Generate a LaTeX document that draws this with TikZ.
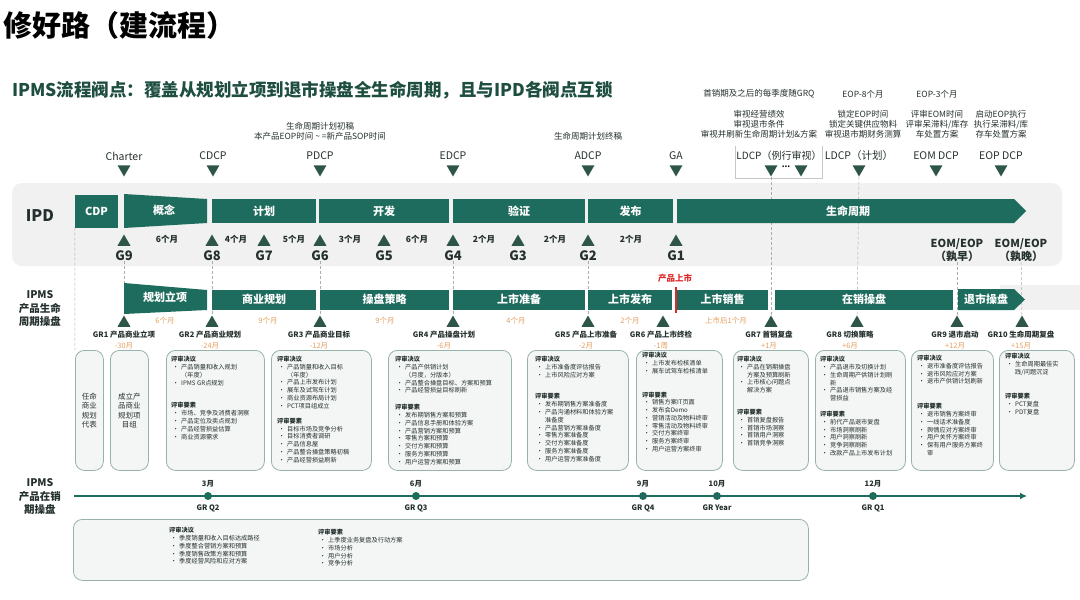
\documentclass[tikz,border=0pt]{standalone}
\usepackage{fontspec}
\setmainfont{Noto Sans CJK SC}
\usetikzlibrary{shapes.geometric,positioning,arrows.meta}
\definecolor{barteal}{RGB}{30,108,93}
\definecolor{trigreen}{RGB}{45,86,72}
\definecolor{titgreen}{RGB}{30,78,64}
\definecolor{inkdark}{RGB}{36,48,46}
\definecolor{monthor}{RGB}{226,160,98}
\definecolor{launchred}{RGB}{222,40,40}
\definecolor{boxedge}{RGB}{150,178,170}
\definecolor{boxfill}{RGB}{244,246,245}
\definecolor{bandgray}{RGB}{240,241,240}
\newcommand\itm{\makebox[10pt][l]{\hspace{1.5pt}•}}
\newcommand\cont{\hspace*{10pt}}
\begin{document}
\begin{tikzpicture}[x=1pt, y=-1pt, inner sep=0pt,
    ipdbar/.style={fill=barteal, text=white, font=\fontsize{11}{12}\selectfont\bfseries, minimum height=24},
    gbar/.style={ipdbar, minimum height=20},
    bartext/.style={text=white, font=\fontsize{11}{12}\selectfont\bfseries},
    downtri/.style={regular polygon, regular polygon sides=3, shape border rotate=180, fill=trigreen, minimum size=15},
    uptri/.style={regular polygon, regular polygon sides=3, fill=trigreen, minimum size=15},
    mile/.style={font=\fontsize{10.5}{12}\selectfont, text=inkdark},
    note/.style={align=center, font=\fontsize{8.5}{10}\selectfont, text=inkdark},
    gate/.style={font=\fontsize{13}{14}\selectfont\bfseries, text=inkdark},
    gmon/.style={font=\fontsize{8.5}{10}\selectfont\bfseries, text=inkdark},
    omon/.style={font=\fontsize{7.5}{9}\selectfont, text=monthor},
    grlab/.style={font=\fontsize{7.5}{9}\selectfont\bfseries, text=inkdark},
    rowlab/.style={align=center, font=\fontsize{10.5}{13.5}\selectfont\bfseries, text=inkdark},
    guide/.style={densely dashed, gray!65, line width=0.5pt},
    revbox/.style={draw=boxedge, fill=boxfill, rounded corners=9, line width=0.8pt, anchor=north west},
    revtxt/.style={anchor=north west, align=left, font=\fontsize{6.2}{7.8}\selectfont, text=inkdark},
    qdot/.style={circle, fill=barteal, minimum size=8},
    qlab/.style={font=\fontsize{7.5}{9}\selectfont\bfseries, text=inkdark, inner sep=1pt}
]
\useasboundingbox (0,0) rectangle (1080,600);

\node[anchor=west, font=\fontsize{29}{30}\selectfont\bfseries] (title) at (3,25) {修好路（建流程）};
\node[anchor=west, text=titgreen, font=\fontsize{17.5}{18}\selectfont\bfseries] (subtitle) at (12,90)
    {IPMS流程阀点：覆盖从规划立项到退市操盘全生命周期，且与IPD各阀点互锁};

\fill[bandgray, rounded corners=10] (12,183) rectangle (1062,266);
\fill[bandgray] (1000,285) rectangle (1080,310);
\node[font=\fontsize{16}{16}\selectfont\bfseries, text=inkdark] (ipd) at (40,216) {IPD};
\node[rowlab] (ipms) at (40,309) {IPMS\\产品生命\\周期操盘};

% IPD decision points
\foreach \x/\n/\t in {124/ch/Charter, 213/cdcp/CDCP, 320/pdcp/PDCP, 453/edcp/EDCP, 588/adcp/ADCP, 676/ga/GA, 859/ldcpb/LDCP（计划）, 936/eom/EOM DCP, 1001/eop/EOP DCP} {
    \node[mile] (l\n) at (\x,156) {\t};
    \node[downtri] (t\n) at (\x,169) {};
}
\node[mile, font=\fontsize{10}{12}\selectfont] (lldcpa) at (779,156) {LDCP（例行审视）};
\node[downtri] (tldcpa) at (771,169) {};
\node[downtri] (tldcpc) at (801,169) {};
\node[font=\fontsize{8}{9}\selectfont\bfseries] (ldots) at (786,167) {...};
\draw[gray!45, line width=0.5pt] (735,146) |- (822,178) -- (822,146);

\node[note] (npdcp) at (320,131) {生命周期计划初稿\\本产品EOP时间 \textasciitilde\ =新产品SOP时间};
\node[note] (nadcp) at (588,136) {生命周期计划终稿};
\node[note] (nqa) at (759,94) {首销期及之后的每季度随GRQ};
\node[note] (nqb) at (863,94) {EOP-8个月};
\node[note] (nqc) at (937,94) {EOP-3个月};
\node[note] (nla) at (759,124) {审视经营绩效\\审视退市条件\\审视并刷新生命周期计划\&方案};
\node[note] (nlb) at (863,124) {锁定EOP时间\\锁定关键供应物料\\审视退市期财务测算};
\node[note] (nlc) at (937,124) {评审EOM时间\\评审呆滞料/库存\\车处置方案};
\node[note] (nld) at (1001,124) {启动EOP执行\\执行呆滞料/库\\存车处置方案};

% G gates
\foreach \x/\g in {124/G9, 212/G8, 264/G7, 320/G6, 384/G5, 453/G4, 518/G3, 588/G2, 676/G1} {
    \node[uptri] (t\g) at (\x,242) {};
    \node[gate] (\g) at (\x,256) {\g};
}
\foreach \x/\m in {167/6, 236/4, 294/5, 350/3, 417/6, 484/2, 555/2, 631/2}
    \node[gmon] at (\x,239) {\m 个月};
\node[rowlab, font=\fontsize{11}{13.5}\selectfont\bfseries] (eoma) at (957,250) {EOM/EOP\\（孰早）};
\node[rowlab, font=\fontsize{11}{13.5}\selectfont\bfseries] (eomb) at (1021,250) {EOM/EOP\\（孰晚）};

% GR points
\foreach \x/\lx/\n/\t/\o in {124/124/gr1/GR1 产品商业立项/-30月, 212/210/gr2/GR2 产品商业规划/-24月,
    320/319/gr3/GR3 产品商业目标/-12月, 453/444/gr4/GR4 产品操盘计划/-6月, 588/586/gr5/GR5 产品上市准备/-2月,
    663/661/gr6/GR6 产品上市终检/-1周, 771/769/gr7/GR7 首销复盘/+1月, 857/850/gr8/GR8 切换策略/+6月,
    957/955/gr9/GR9 退市启动/+12月, 1022/1021/gr10/GR10 生命周期复盘/+15月} {
    \node[uptri] (\n) at (\x,323) {};
    \node[grlab] (\n-l) at (\lx,335) {\t};
    \node[omon] (\n-o) at (\lx,346) {\o};
}
\foreach \x/\t in {165/6个月, 268/9个月, 385/9个月, 516/4个月, 630/2个月, 726/上市后1个月}
    \node[omon] at (\x,321) {\t};

\draw[guide] (G9) -- (gr1);
\draw[guide] (G8) -- (gr2);
\draw[guide] (G6) -- (gr3);
\draw[guide] (G4) -- (gr4);
\draw[guide] (G2) -- (gr5);
\draw[guide] (tldcpa) -- (gr7);
\draw[guide] (tldcpb) -- (gr8);
\draw[guide] (eoma) -- (gr9);
\draw[guide] (eomb) -- (gr10);

% IPD phases
\node[ipdbar, minimum width=43, minimum height=33] (cdp) at (96.5,211) {CDP};
\fill[barteal] (124,194) -- (207,199) -- (207,223) -- (124,228) -- cycle;
\node[bartext] (concept) at (164,210) {概念};
\foreach \a/\b/\t/\n in {212/316/计划/plan, 319/449/开发/dev, 453/585/验证/ver, 588/673/发布/rel}
    \node[ipdbar, minimum width=\b-\a] (\n) at ({(\a+\b)/2},211) {\t};
\fill[barteal] (677,199) -- (1014,199) -- (1026,211) -- (1014,223) -- (677,223) -- cycle;
\node[bartext] (life) at (848,211) {生命周期};

% IPMS phases
\fill[barteal] (124,283) -- (207,290) -- (207,310) -- (124,314) -- cycle;
\node[bartext] (gp) at (165,297) {规划立项};
\foreach \a/\b/\t/\n in {212/316/商业规划/bp, 320/449/操盘策略/os, 453/585/上市准备/lp, 588/672/上市发布/lr, 677/768/上市销售/ls, 775/953/在销操盘/is}
    \node[gbar, minimum width=\b-\a] (\n) at ({(\a+\b)/2},299.5) {\t};
\fill[barteal] (958,289) -- (1014,289) -- (1025,299.5) -- (1014,310) -- (958,310) -- cycle;
\node[bartext] (exitop) at (986,299) {退市操盘};
\draw[launchred, line width=1.6pt] (676,287) -- (676,313);
\node[text=launchred, font=\fontsize{8.5}{9}\selectfont\bfseries] (launch) at (675,278) {产品上市};

% review boxes
\foreach \a/\b/\n in {75/103/bA, 110/148/bB, 166/264/bC, 271/371/bD, 388/511/bE, 527/628/bF, 636/722/bG, 733/808/bH, 815/905/bI, 911/993/bJ, 999/1074/bK}
    \node[revbox, minimum width=\b-\a, minimum height=120] (\n) at (\a,350) {};
\draw[guide] (cdp.south west) -- (bA.north west);
\node[rowlab, font=\fontsize{7.5}{9.5}\selectfont] at (bA) {任命\\商业\\规划\\代表};
\node[rowlab, font=\fontsize{7.5}{9.5}\selectfont] at (bB) {成立产\\品商业\\规划项\\目组};
\node[revtxt] at ([shift={(5,6)}]bC.north west) {\textbf{评审决议}\\
    \itm 产品销量和收入规划\\ \cont（年度）\\ \itm IPMS GR点规划\\[15pt]
    \textbf{评审要素}\\ \itm 市场、竞争及消费者洞察\\ \itm 产品定位及卖点规划\\
    \itm 产品经营损益估算\\ \itm 商业资源需求};
\node[revtxt] at ([shift={(6,6)}]bD.north west) {\textbf{评审决议}\\
    \itm 产品销量和收入目标\\ \cont（年度）\\ \itm 产品上市发布计划\\ \itm 展车及试驾车计划\\
    \itm 商业资源布局计划\\ \itm PCT项目组成立\\[7pt]
    \textbf{评审要素}\\ \itm 目标市场及竞争分析\\ \itm 目标消费者调研\\ \itm 产品信息屋\\
    \itm 产品整合操盘策略初稿\\ \itm 产品经营损益刷新};
\node[revtxt] at ([shift={(7,6)}]bE.north west) {\textbf{评审决议}\\
    \itm 产品产供销计划\\ \cont（月度，分版本）\\ \itm 产品整合操盘目标、方案和预算\\
    \itm 产品经营损益目标刷新\\[9pt]
    \textbf{评审要素}\\ \itm 发布期销售方案和预算\\ \itm 产品信息手册和体验方案\\
    \itm 产品营销方案和预算\\ \itm 零售方案和预算\\ \itm 交付方案和预算\\
    \itm 服务方案和预算\\ \itm 用户运营方案和预算};
\node[revtxt] at ([shift={(8,6)}]bF.north west) {\textbf{评审决议}\\
    \itm 上市准备度评估报告\\ \itm 上市风险应对方案\\[14pt]
    \textbf{评审要素}\\ \itm 发布期销售方案准备度\\ \itm 产品沟通材料和体验方案\\ \cont 准备度\\
    \itm 产品营销方案准备度\\ \itm 零售方案准备度\\ \itm 交付方案准备度\\
    \itm 服务方案准备度\\ \itm 用户运营方案准备度};
\node[revtxt] at ([shift={(6,2)}]bG.north west) {\textbf{评审决议}\\
    \itm 上市发布检核清单\\ \itm 展车试驾车检核清单\\[16pt]
    \textbf{评审要素}\\ \itm 销售方案IT页面\\ \itm 发布会Demo\\ \itm 营销活动及物料终审\\
    \itm 零售活动及物料终审\\ \itm 交付方案终审\\ \itm 服务方案终审\\ \itm 用户运营方案终审};
\node[revtxt] at ([shift={(4,6)}]bH.north west) {\textbf{评审决议}\\
    \itm 产品在销期操盘\\ \cont 方案及预算刷新\\ \itm 上市核心问题点\\ \cont 解决方案\\[14pt]
    \textbf{评审要素}\\ \itm 首销复盘报告\\ \itm 首销市场洞察\\ \itm 首销用户洞察\\ \itm 首销竞争洞察};
\node[revtxt] at ([shift={(5,6)}]bI.north west) {\textbf{评审决议}\\
    \itm 产品退市及切换计划\\ \itm 生命周期产供销计划刷\\ \cont 新\\
    \itm 产品退市销售方案及经\\ \cont 营损益\\[8pt]
    \textbf{评审要素}\\ \itm 前代产品退市复盘\\ \itm 市场洞察刷新\\ \itm 用户洞察刷新\\
    \itm 竞争洞察刷新\\ \itm 改款产品上市发布计划};
\node[revtxt] at ([shift={(6,5)}]bJ.north west) {\textbf{评审决议}\\
    \itm 退市准备度评估报告\\ \itm 退市风险应对方案\\ \itm 退市产供销计划刷新\\[17pt]
    \textbf{评审要素}\\ \itm 退市销售方案终审\\ \itm 一线话术准备度\\ \itm 舆情应对方案终审\\
    \itm 用户关怀方案终审\\ \itm 保有用户服务方案终\\ \cont 审};
\node[revtxt] at ([shift={(6,3)}]bK.north west) {\textbf{评审决议}\\
    \itm 生命周期最佳实\\ \cont 践/问题沉淀\\[17pt]
    \textbf{评审要素}\\ \itm PCT复盘\\ \itm PDT复盘};

% quarterly GR
\node[rowlab] (ipmsq) at (40,497) {IPMS\\产品在销\\期操盘};
\coordinate (qstart) at (74,496);
\coordinate (qend) at (1027,496);
\draw[barteal, line width=2.2pt, -{Latex[length=7pt,width=7pt]}] (qstart) -- (qend);
\foreach \x/\m/\q/\n in {208/3月/GR Q2/q2, 416/6月/GR Q3/q3, 643/9月/GR Q4/q4, 717/10月/GR Year/qy, 873/12月/GR Q1/qa} {
    \node[qdot] (\n) at (\x,496) {};
    \node[qlab, above=3pt of \n] {\m};
    \node[qlab, below=3pt of \n] {\q};
}
\node[revbox, minimum width=735, minimum height=61] (qbox) at (73,519) {};
\node[revtxt] at (169,527) {\textbf{评审决议}\\ \itm 季度销量和收入目标达成路径\\ \itm 季度整合营销方案和预算\\
    \itm 季度销售政策方案和预算\\ \itm 季度经营风险和应对方案};
\node[revtxt] at (318,529) {\textbf{评审要素}\\ \itm 上季度业务复盘及行动方案\\ \itm 市场分析\\
    \itm 用户分析\\ \itm 竞争分析};
\end{tikzpicture}
\end{document}
